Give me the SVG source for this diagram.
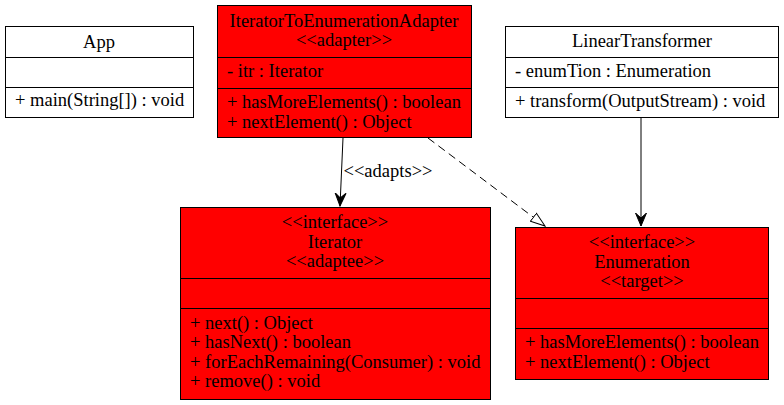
<svg xmlns="http://www.w3.org/2000/svg" width="784" height="405" viewBox="0 0 784 405" font-family="'Liberation Serif', 'Times New Roman', serif" font-size="18.5">
<style>
text{font-family:"Liberation Serif","Times New Roman",serif;font-size:18.5px;fill:#000}
.c{text-anchor:middle}
.box{stroke:#000;stroke-width:1}
.red{fill:#ff0000}
.white{fill:#fff}
.sep{stroke:#000;stroke-width:1}
.edge{stroke:#000;stroke-width:1;fill:none}
</style>
<defs>
<marker id="vee" viewBox="0 0 14 14" refX="13" refY="7" markerWidth="14" markerHeight="14" markerUnits="userSpaceOnUse" orient="auto">
<path d="M0,1.5 L13,7 L0,12.5 L5,7 Z" fill="#000" stroke="#000" stroke-width="1"/>
</marker>
<marker id="tri" viewBox="0 0 16 14" refX="15" refY="7" markerWidth="16" markerHeight="14" markerUnits="userSpaceOnUse" orient="auto">
<path d="M0.5,2 L15,7 L0.5,12 Z" fill="#fff" stroke="#000" stroke-width="1"/>
</marker>
</defs>
<rect width="784" height="405" fill="#fff"/>
<g id="connectors">
<line class="edge" x1="343" y1="138" x2="340" y2="206" marker-end="url(#vee)"/>
<text x="388" y="177" class="c" text-anchor="middle">&lt;&lt;adapts&gt;&gt;</text>
<line class="edge" x1="428" y1="138" x2="545" y2="226" stroke-dasharray="8,5" marker-end="url(#tri)"/>
<line class="edge" x1="641" y1="117" x2="641" y2="226" marker-end="url(#vee)"/>
</g>
<g id="App">
<rect class="box white" x="5.5" y="26.5" width="188" height="91"/>
<line class="sep" x1="5.5" y1="57.5" x2="193.5" y2="57.5"/>
<line class="sep" x1="5.5" y1="87.5" x2="193.5" y2="87.5"/>
<text x="99" y="48" class="c" text-anchor="middle">App</text>
<text x="15" y="106">+ main(String[]) : void</text>
</g>
<g id="IteratorToEnumerationAdapter">
<rect class="box red" x="217.5" y="5.5" width="254" height="132"/>
<line class="sep" x1="217.5" y1="57.5" x2="471.5" y2="57.5"/>
<line class="sep" x1="217.5" y1="88.5" x2="471.5" y2="88.5"/>
<text x="344" y="27" class="c" text-anchor="middle">IteratorToEnumerationAdapter</text>
<text x="344" y="46" class="c" text-anchor="middle">&lt;&lt;adapter&gt;&gt;</text>
<text x="227" y="77">- itr : Iterator</text>
<text x="227" y="108">+ hasMoreElements() : boolean</text>
<text x="227" y="127.5">+ nextElement() : Object</text>
</g>
<g id="LinearTransformer">
<rect class="box white" x="505.5" y="26.5" width="273" height="91"/>
<line class="sep" x1="505.5" y1="57.5" x2="778.5" y2="57.5"/>
<line class="sep" x1="505.5" y1="87.5" x2="778.5" y2="87.5"/>
<text x="642" y="47" class="c" text-anchor="middle">LinearTransformer</text>
<text x="515" y="77">- enumTion : Enumeration</text>
<text x="515" y="107">+ transform(OutputStream) : void</text>
</g>
<g id="Iterator">
<rect class="box red" x="180.5" y="207.5" width="310" height="192"/>
<line class="sep" x1="180.5" y1="278.5" x2="490.5" y2="278.5"/>
<line class="sep" x1="180.5" y1="308.5" x2="490.5" y2="308.5"/>
<text x="335" y="227.5" class="c" text-anchor="middle">&lt;&lt;interface&gt;&gt;</text>
<text x="335" y="247.5" class="c" text-anchor="middle">Iterator</text>
<text x="335" y="266.5" class="c" text-anchor="middle">&lt;&lt;adaptee&gt;&gt;</text>
<text x="190" y="328.5">+ next() : Object</text>
<text x="190" y="348">+ hasNext() : boolean</text>
<text x="190" y="367.5">+ forEachRemaining(Consumer) : void</text>
<text x="190" y="387">+ remove() : void</text>
</g>
<g id="Enumeration">
<rect class="box red" x="515.5" y="227.5" width="253" height="152"/>
<line class="sep" x1="515.5" y1="298.5" x2="768.5" y2="298.5"/>
<line class="sep" x1="515.5" y1="328.5" x2="768.5" y2="328.5"/>
<text x="642" y="247.5" class="c" text-anchor="middle">&lt;&lt;interface&gt;&gt;</text>
<text x="642" y="267.5" class="c" text-anchor="middle">Enumeration</text>
<text x="642" y="286.5" class="c" text-anchor="middle">&lt;&lt;target&gt;&gt;</text>
<text x="525" y="348">+ hasMoreElements() : boolean</text>
<text x="525" y="367.5">+ nextElement() : Object</text>
</g>
</svg>
